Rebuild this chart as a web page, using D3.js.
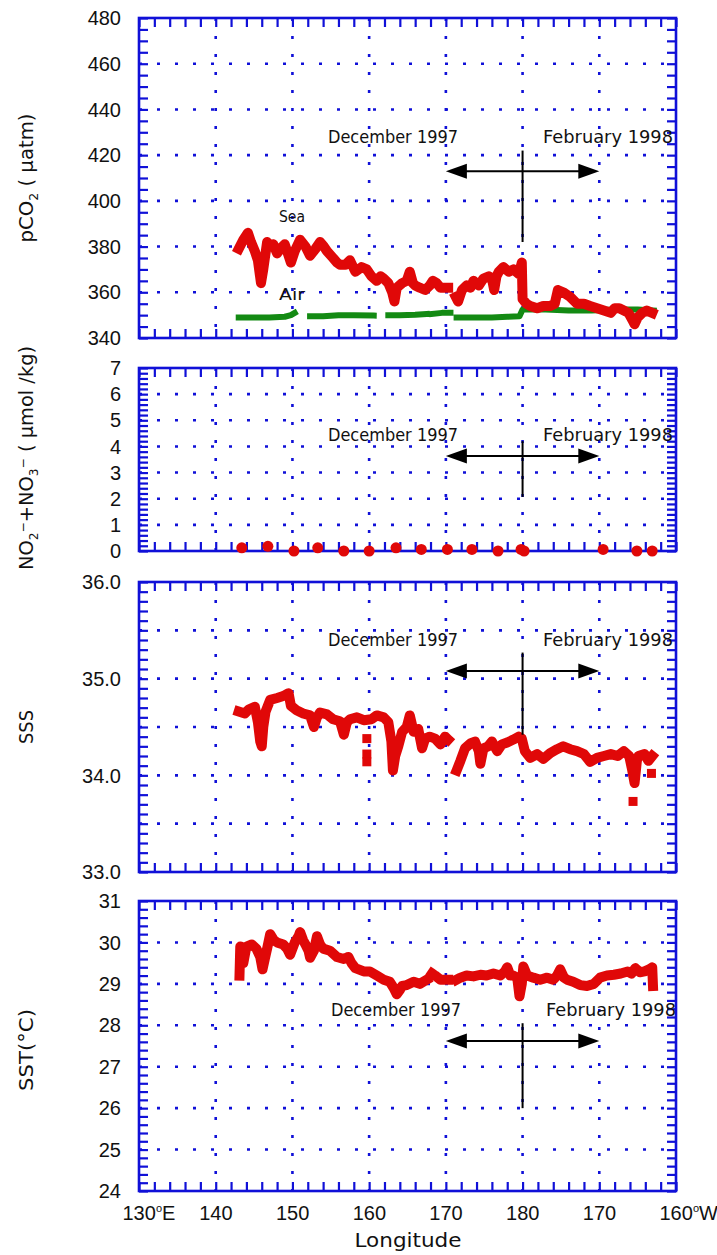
<!DOCTYPE html>
<html><head><meta charset="utf-8">
<script src="https://cdn.jsdelivr.net/npm/d3@7"></script>
<style>body{margin:0;background:#fff} svg{display:block}</style>
</head><body><svg id="c" width="717" height="1255"></svg>
<script>
// ---------------- DATA ----------------
const lonTicks = [130,140,150,160,170,180,190,200];
const lonTickLabels = ["130","140","150","160","170","180","170","160"];
const lonTickSuffix = ["E","","","","","","","W"];

const pco2Ticks = [340,360,380,400,420,440,460,480];
const nutTicks = [0,1,2,3,4,5,6,7];
const sssTicks = [33,34,35,36];
const sssGrid = [33.5,34,34.5,35,35.5];
const sstTicks = [24,25,26,27,28,29,30,31];

// pCO2 sea (null = gap)
const seaLon = [143.0,143.6,144.2,144.6,145.1,145.5,145.9,146.2,146.7,147.1,147.5,148.0,148.4,149.0,149.5,149.8,150.3,151.0,151.7,152.3,153.0,153.6,154.1,154.5,155.3,155.8,156.2,156.9,157.5,158.2,158.6,159.0,159.7,160.3,161.0,161.5,161.9,162.5,163.0,163.3,163.6,164.3,164.9,165.3,165.7,166.0,166.6,167.3,167.9,168.3,168.8,169.3,169.7,170.3,170.8,171.3,171.6,172.1,172.7,173.2,173.6,174.3,174.9,175.6,176.0,176.3,176.6,176.9,177.5,178.2,178.8,179.5,179.9,180.0,180.5,181.0,181.9,182.7,183.6,184.2,184.6,185.3,186.2,187.1,188.0,188.8,189.7,190.6,191.5,192.0,192.6,193.2,193.8,194.3,194.6,195.0,195.6,196.2,196.9];
const seaPCO2 = [379,383,386,382,378,374,364,370,382,380,381,377,379,381,376,373,378,383,380,376,379,382,380,378,375,373,372,372,374,369,370,371,370,367,365,367,366,364,360,356,362,364,365,369,364,363,362,361,363,365,364,362,362,362,null,358,356,361,363,362,365,363,366,367,366,361,367,369,371,369,370,368,373,357,355,354,353,354,354,355,361,360,358,355,355,354,353,352,351,353,353,352,351,348,346,349,351,352,351];

// pCO2 air (null = gap)
const airLon = [143.0,145.0,147.0,149.0,149.8,150.3,151.3,152.3,154.0,156.0,158.0,160.6,161.5,162.5,164.0,166.0,167.5,167.9,168.2,169.5,170.6,171.0,171.4,174.0,176.0,178.0,179.6,180.0,183.0,186.0,189.0,192.0,195.0,197.1];
const airPCO2 = [349,349,349,349.3,350,351,null,349.5,349.5,350,350,349.8,null,350,350,350.2,350.5,null,350.5,351,351,null,349,349,349,349.3,349.5,352.5,352.5,352,352,352.5,352.5,352];

// NO2+NO3 bottle samples
const nutLon = [143.4,146.8,150.2,153.3,156.7,160.0,163.5,166.8,170.2,173.4,176.8,179.8,180.2,190.5,194.9,196.9];
const nutVal = [0.12,0.18,0.0,0.12,0.0,0.0,0.12,0.06,0.06,0.06,0.0,0.06,0.0,0.06,0.0,0.0];

// SSS (null = gap)
const sssLon = [143.0,143.8,144.3,145.1,145.5,145.8,146.0,146.2,146.5,147.1,148.0,148.8,149.5,149.8,150.6,151.4,152.3,152.8,153.2,153.6,154.5,155.3,156.2,156.7,157.1,157.5,158.4,159.3,160.3,161.0,161.9,162.5,162.9,163.1,163.4,163.8,164.3,164.9,165.3,165.8,166.4,166.9,167.3,167.9,168.6,169.3,169.9,170.3,170.8,171.4,171.9,172.5,173.2,173.8,174.3,174.5,174.9,175.5,176.0,176.7,177.3,178.0,178.8,179.5,179.9,180.3,181.0,181.9,182.7,183.6,184.5,185.3,186.2,187.1,188.0,188.8,189.7,190.6,191.5,192.4,193.2,193.9,194.3,194.6,194.9,195.1,195.9,196.4,196.9];
const sssVal = [34.66,34.64,34.68,34.71,34.55,34.35,34.30,34.50,34.66,34.78,34.80,34.82,34.85,34.72,34.67,34.64,34.62,34.50,34.60,34.65,34.63,34.58,34.56,34.42,34.55,34.58,34.60,34.57,34.58,34.62,34.60,34.55,34.35,34.05,34.20,34.30,34.45,34.50,34.62,34.45,34.48,34.28,34.38,34.40,34.38,34.32,34.40,34.37,null,34.05,34.15,34.28,34.33,34.35,34.25,34.12,34.28,34.30,34.35,34.25,34.32,34.34,34.37,34.40,34.38,34.25,34.18,34.22,34.17,34.23,34.27,34.30,34.27,34.25,34.22,34.14,34.18,34.20,34.22,34.20,34.25,34.20,34.05,33.92,34.15,34.20,34.22,34.15,34.20];
const sssDotLon = [159.7,159.7,159.7,194.4,196.8];
const sssDotVal = [34.38,34.22,34.14,33.73,34.02];

// SST (null = gap)
const sstLon = [143.1,143.2,143.6,144.0,144.7,145.3,145.8,146.1,146.4,146.7,147.1,147.6,148.0,148.8,149.3,149.7,150.3,150.8,151.0,151.4,151.7,152.1,152.3,152.8,153.2,153.6,154.0,154.9,155.8,156.7,157.3,157.7,158.2,159.3,160.1,161.0,161.9,162.7,163.2,163.6,164.0,164.3,164.9,165.8,166.6,167.5,167.9,168.2,168.6,169.3,170.3,170.8,171.4,171.9,172.7,173.6,174.5,175.3,176.2,177.1,177.7,178.0,178.4,178.8,179.3,179.6,179.9,180.1,180.6,181.4,182.3,183.2,184.0,184.5,184.9,185.4,185.8,186.6,187.5,188.4,189.3,190.1,191.0,191.9,192.8,193.7,194.2,194.7,195.3,195.9,196.5,196.9,197.0];
const sstVal = [29.2,29.9,29.5,29.9,29.95,29.85,29.65,29.35,29.6,29.85,30.2,30.05,30.0,29.95,29.85,29.7,30.0,30.15,30.25,30.05,29.95,29.8,29.63,29.8,30.15,29.95,29.85,29.8,29.65,29.6,29.65,29.5,29.38,29.3,29.3,29.2,29.1,29.05,28.9,28.75,28.85,28.95,28.97,29.05,29.0,29.1,null,29.25,29.2,29.1,29.1,null,29.1,29.15,29.2,29.18,29.22,29.2,29.25,29.2,29.3,29.4,29.2,29.2,29.15,28.7,29.0,29.42,29.2,29.15,29.1,29.15,29.1,29.2,29.35,29.15,29.1,29.05,28.97,28.95,29.0,29.15,29.2,29.22,29.25,29.3,29.25,29.38,29.28,29.3,29.35,29.4,28.95];

// ---------------- DRAW ----------------
const BLUE = "#1010d8", RED = "#e00808", GREEN = "#138a13";
const svg = d3.select("#c");
const x = d3.scaleLinear().domain([130,200]).range([139,676]);

const panels = [
  {top:18, bottom:338, dom:[340,480], labels:pco2Ticks, grid:pco2Ticks.slice(1,-1), minor:d3.range(340,480.01,5), fmt:d3.format("d"),
   ann:{text:428, arrow:413, vTop:422, vBot:382}, textX:[328,543]},
  {top:368, bottom:551, dom:[0,7], labels:nutTicks, grid:nutTicks.slice(1,-1), minor:d3.range(0,7.001,0.2), fmt:d3.format("d"),
   ann:{text:4.44, arrow:3.63, vTop:4.2, vBot:2.07}, textX:[328,543]},
  {top:582, bottom:872, dom:[33,36], labels:sssTicks, grid:sssGrid, minor:d3.range(33,36.001,0.1), fmt:d3.format(".1f"),
   ann:{text:35.41, arrow:35.08, vTop:35.27, vBot:34.42}, textX:[328,543]},
  {top:901, bottom:1191, dom:[24,31], labels:sstTicks, grid:sstTicks.slice(1,-1), minor:d3.range(24,31.001,0.2), fmt:d3.format("d"),
   ann:{text:28.38, arrow:27.62, vTop:28.05, vBot:26.0}, textX:[331,546]},
];
panels.forEach(p => { p.y = d3.scaleLinear().domain(p.dom).range([p.bottom, p.top]); });

const xMinor = d3.range(130,200.01,2);
const xGrid = lonTicks.slice(1,-1);
const TL = 9;

panels.forEach((p,i) => {
  const g = svg.append("g");
  g.selectAll(".hg").data(p.grid).join("line")
    .attr("x1",x(130)).attr("x2",x(200)).attr("y1",d=>p.y(d)).attr("y2",d=>p.y(d))
    .attr("stroke",BLUE).attr("stroke-width",2.6).attr("stroke-dasharray","3,15");
  g.selectAll(".vg").data(xGrid).join("line")
    .attr("x1",d=>x(d)).attr("x2",d=>x(d)).attr("y1",p.top).attr("y2",p.bottom)
    .attr("stroke",BLUE).attr("stroke-width",2.6).attr("stroke-dasharray","3,15");
  const noF = () => "";
  g.append("g").attr("transform",`translate(${x(130)},0)`)
    .call(d3.axisLeft(p.y).tickValues(p.minor).tickSize(-TL).tickFormat(noF).tickSizeOuter(0));
  g.append("g").attr("transform",`translate(${x(200)},0)`)
    .call(d3.axisRight(p.y).tickValues(p.minor).tickSize(-TL).tickFormat(noF).tickSizeOuter(0));
  g.append("g").attr("transform",`translate(0,${p.top})`)
    .call(d3.axisTop(x).tickValues(xMinor).tickSize(-TL).tickFormat(noF).tickSizeOuter(0));
  g.append("g").attr("transform",`translate(0,${p.bottom})`)
    .call(d3.axisBottom(x).tickValues(xMinor).tickSize(-TL).tickFormat(noF).tickSizeOuter(0));
  g.selectAll(".domain").remove();
  g.selectAll(".tick line").attr("stroke",BLUE).attr("stroke-width",2.2);
  g.append("rect").attr("x",x(130)).attr("y",p.top).attr("width",x(200)-x(130)).attr("height",p.bottom-p.top)
    .attr("fill","none").attr("stroke",BLUE).attr("stroke-width",2.6);
  g.selectAll(".yl").data(p.labels).join("text")
    .attr("x",121).attr("y",d=>p.y(d)).attr("dy","0.36em").attr("text-anchor","end")
    .attr("font-family","Liberation Sans, Arial, sans-serif").attr("font-size",20).attr("fill","#111")
    .text(p.fmt);
});

const line = (xs, ys, yScale) => d3.line().defined((d,i)=>ys[i]!==null).x((d,i)=>x(xs[i])).y((d,i)=>yScale(ys[i]))(xs);

const P1 = panels[0], P2 = panels[1], P3 = panels[2], P4 = panels[3];
svg.append("path").attr("d", line(airLon, airPCO2, P1.y)).attr("fill","none").attr("stroke",GREEN)
  .attr("stroke-width",6).attr("stroke-linejoin","round").attr("stroke-linecap","square");
svg.append("path").attr("d", line(seaLon, seaPCO2, P1.y)).attr("fill","none").attr("stroke",RED)
  .attr("stroke-width",10).attr("stroke-linejoin","round").attr("stroke-linecap","square");

svg.selectAll(".nut").data(nutLon).join("circle")
  .attr("cx",(d)=>x(d)).attr("cy",(d,i)=>P2.y(nutVal[i])).attr("r",5.5).attr("fill",RED);

svg.append("path").attr("d", line(sssLon, sssVal, P3.y)).attr("fill","none").attr("stroke",RED)
  .attr("stroke-width",10).attr("stroke-linejoin","round").attr("stroke-linecap","square");
svg.selectAll(".sdot").data(sssDotLon).join("rect")
  .attr("x",d=>x(d)-4.5).attr("y",(d,i)=>P3.y(sssDotVal[i])-4.5).attr("width",9).attr("height",9).attr("fill",RED);

svg.append("path").attr("d", line(sstLon, sstVal, P4.y)).attr("fill","none").attr("stroke",RED)
  .attr("stroke-width",10).attr("stroke-linejoin","round").attr("stroke-linecap","square");

const annFont = "DejaVu Sans, Liberation Sans, sans-serif";
panels.forEach(p => {
  const g = svg.append("g");
  const a = p.ann;
  g.append("text").attr("x",p.textX[0]).attr("y",p.y(a.text)).attr("dy","0.36em")
    .attr("font-family",annFont).attr("font-size",18).attr("fill","#111")
    .attr("textLength",130).attr("lengthAdjust","spacingAndGlyphs").text("December 1997");
  g.append("text").attr("x",p.textX[1]).attr("y",p.y(a.text)).attr("dy","0.36em")
    .attr("font-family",annFont).attr("font-size",18).attr("fill","#111")
    .attr("textLength",130).attr("lengthAdjust","spacingAndGlyphs").text("February 1998");
  const ya = p.y(a.arrow), xl = x(170), xr = x(190);
  g.append("line").attr("x1",xl+10).attr("x2",xr-10).attr("y1",ya).attr("y2",ya).attr("stroke","#000").attr("stroke-width",2);
  g.append("path").attr("d",`M${xl},${ya}L${xl+21},${ya-7.5}L${xl+21},${ya+7.5}Z`).attr("fill","#000");
  g.append("path").attr("d",`M${xr},${ya}L${xr-21},${ya-7.5}L${xr-21},${ya+7.5}Z`).attr("fill","#000");
  g.append("line").attr("x1",x(180)).attr("x2",x(180)).attr("y1",p.y(a.vTop)).attr("y2",p.y(a.vBot))
    .attr("stroke","#000").attr("stroke-width",2);
});

svg.append("text").attr("x",292).attr("y",217).attr("dy","0.36em").attr("text-anchor","middle")
  .attr("font-family",annFont).attr("font-size",15).attr("fill","#111")
  .attr("textLength",26).attr("lengthAdjust","spacingAndGlyphs").text("Sea");
svg.append("text").attr("x",292).attr("y",295).attr("dy","0.36em").attr("text-anchor","middle")
  .attr("font-family",annFont).attr("font-size",15).attr("fill","#111")
  .attr("textLength",26).attr("lengthAdjust","spacingAndGlyphs").text("Air");

const xlab = svg.append("g").attr("font-family","Liberation Sans, Arial, sans-serif").attr("fill","#111");
lonTicks.forEach((t,i) => {
  const tx = xlab.append("text").attr("x",x(t)-16.5).attr("y",1213).attr("dy","0.36em").attr("font-size",20);
  tx.append("tspan").text(lonTickLabels[i]);
  if (lonTickSuffix[i]) {
    tx.append("tspan").attr("font-size",11).attr("dy",-8).text("o");
    tx.append("tspan").attr("dy",8).text(lonTickSuffix[i]);
  }
});
svg.append("text").attr("x",408).attr("y",1240).attr("dy","0.36em").attr("text-anchor","middle")
  .attr("font-family",annFont).attr("font-size",20).attr("fill","#111")
  .attr("textLength",107).attr("lengthAdjust","spacingAndGlyphs").text("Longitude");

function ytitle(cy, len, build){
  const t = svg.append("text").attr("transform",`translate(33,${cy}) rotate(-90)`).attr("text-anchor","middle")
    .attr("font-family",annFont).attr("font-size",19).attr("fill","#111")
    .attr("textLength",len).attr("lengthAdjust","spacingAndGlyphs");
  build(t);
}
ytitle(178, 129, t => {
  t.append("tspan").text("pCO");
  t.append("tspan").attr("font-size",12).attr("dy",5).text("2");
  t.append("tspan").attr("dy",-5).text(" ( µatm)");
});
ytitle(458, 224, t => {
  t.append("tspan").text("NO");
  t.append("tspan").attr("font-size",12).attr("dy",5).text("2");
  t.append("tspan").attr("font-size",12).attr("dy",-11).text("−");
  t.append("tspan").attr("dy",6).text("+NO");
  t.append("tspan").attr("font-size",12).attr("dy",5).text("3");
  t.append("tspan").attr("font-size",12).attr("dy",-11).text("−");
  t.append("tspan").attr("dy",6).text("  ( µmol /kg)");
});
ytitle(727, 34, t => t.text("SSS"));
ytitle(1050, 82, t => t.text("SST(°C)"));
</script>
</body></html>
